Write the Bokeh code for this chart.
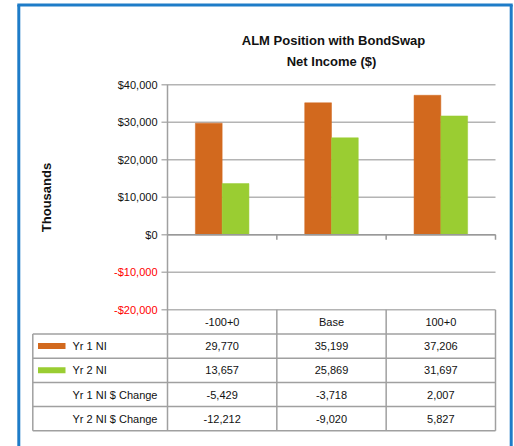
import numpy as np
from bokeh.plotting import figure
from bokeh.models import Range1d
from bokeh.core.properties import value
from bokeh.embed import file_html
from bokeh.resources import INLINE

# ---------------- data ----------------
categories = ["-100+0", "Base", "100+0"]
yr1_ni = [29770, 35199, 37206]
yr2_ni = [13657, 25869, 31697]
yr1_change = [-5429, -3718, 2007]
yr2_change = [-12212, -9020, 5827]
row_labels = ["Yr 1 NI", "Yr 2 NI", "Yr 1 NI $ Change", "Yr 2 NI $ Change"]
y_ticks = [40000, 30000, 20000, 10000, 0, -10000, -20000]
title_lines = ["ALM Position with BondSwap", "Net Income ($)"]
y_label = "Thousands"

# ---------------- styles ----------------
ORANGE = "#D2691E"
GREEN = "#9ACD32"
BLUE = "#1E7CC8"
GRID = "#b4b4b4"
TLINE = "#a0a0a0"
TXT = "#111111"
FONT = value("Liberation Sans")

# ---------------- layout (picture pixels) ----------------
W, H, M = 514, 446, 0
PX_L, PX_R = 167.0, 495.0          # plot area left/right
PY_TOP, PY_BOT = 84.3, 309.3       # pixel of y max / y min
Y_MAX, Y_MIN = max(y_ticks), min(y_ticks)
ncat = len(categories)
cat_w = (PX_R - PX_L) / ncat
ppv = (PY_BOT - PY_TOP) / (Y_MAX - Y_MIN)

def vpx(v):
    return PY_TOP + (Y_MAX - v) * ppv

x_range = Range1d((M - PX_L) / cat_w, (M + W - PX_L) / cat_w)
y_range = Range1d(Y_MIN - (M + H - PY_BOT) / ppv, Y_MAX + (PY_TOP - M) / ppv)

p = figure(width=W, height=H, x_range=x_range, y_range=y_range,
           output_backend="svg", toolbar_location=None,
           x_axis_location=None, y_axis_location=None,
           min_border=0, outline_line_color=None,
           background_fill_color="white", border_fill_color="white")
p.grid.visible = False
p.extra_x_ranges = {"px": Range1d(M, M + W)}
p.extra_y_ranges = {"px": Range1d(M + H, M)}

# ---------------- frame border ----------------
BL, BR, BT = 18.3, 510.7, 4.5
p.segment(x0=[BL, BR, BL - 1.5], y0=[BT, BT, BT], x1=[BL, BR, BR + 1.5], y1=[M + H, M + H, BT],
          x_range_name="px", y_range_name="px", line_color=BLUE, line_width=3)

# ---------------- gridlines + tick marks ----------------
nt = len(y_ticks)
p.segment(x0=[PX_L - 6] * nt, x1=[PX_R] * nt, y0=y_ticks, y1=y_ticks,
          x_range_name="px", line_color=GRID, line_width=1.5)

# ---------------- bars ----------------
idx = np.arange(ncat) + 0.5
bw = 0.245
p.vbar(x=idx - bw / 2, top=yr1_ni, bottom=0, width=bw,
       fill_color=ORANGE, line_color=ORANGE, line_width=0.5)
p.vbar(x=idx + bw / 2, top=yr2_ni, bottom=0, width=bw,
       fill_color=GREEN, line_color=GREEN, line_width=0.5)

# zero line
p.segment(x0=[PX_L], x1=[PX_R], y0=[0], y1=[0], x_range_name="px",
          line_color="#999999", line_width=1.5)
# category tick marks below zero line
bounds = np.arange(1, ncat + 1)
zp = vpx(0)
p.segment(x0=bounds, x1=bounds, y0=[zp] * ncat, y1=[zp + 5] * ncat,
          y_range_name="px", line_color="#999999", line_width=1.5)

# y axis line (continues into table)
nrows = len(row_labels) + 1
ROW_H = 24.2
T_TOP = PY_BOT
T_BOT = T_TOP + nrows * ROW_H
T_LEFT = 32.3
p.segment(x0=[PX_L], x1=[PX_L], y0=[PY_TOP], y1=[T_BOT],
          x_range_name="px", y_range_name="px", line_color=TLINE, line_width=1.5)

# ---------------- tick labels ----------------
tick_text = [("-$" if v < 0 else "$") + f"{abs(v):,}" for v in y_ticks]
tick_col = ["#ff0000" if v < 0 else "#111111" for v in y_ticks]
p.text(x=[PX_L - 10] * nt, y=y_ticks, text=tick_text, x_range_name="px",
       text_align="right", text_baseline="middle", text_font=FONT,
       text_font_size="11px", text_color=tick_col)

# ---------------- titles ----------------
p.text(x=[333, 331], y=[39.5, 61], text=title_lines, x_range_name="px", y_range_name="px",
       text_align="center", text_baseline="middle", text_font=FONT,
       text_font_size="13px", text_font_style="bold", text_color="#111111")
p.text(x=[45.5], y=[197], text=[y_label], angle=np.pi / 2,
       x_range_name="px", y_range_name="px",
       text_align="center", text_baseline="middle", text_font=FONT,
       text_font_size="13px", text_font_style="bold", text_color="#111111")

# ---------------- table ----------------
row_y = [T_TOP + ROW_H * (k + 1) for k in range(nrows)]
p.segment(x0=[T_LEFT] * nrows, x1=[PX_R] * nrows, y0=row_y, y1=row_y,
          x_range_name="px", y_range_name="px", line_color=TLINE, line_width=1.5)
p.segment(x0=[T_LEFT], x1=[T_LEFT], y0=[row_y[0]], y1=[T_BOT],
          x_range_name="px", y_range_name="px", line_color=TLINE, line_width=1.5)
p.segment(x0=bounds, x1=bounds, y0=[T_TOP] * ncat, y1=[T_BOT] * ncat,
          y_range_name="px", line_color=TLINE, line_width=1.5)

hdr_y = T_TOP + ROW_H / 2
p.text(x=idx, y=[hdr_y] * ncat, text=categories, y_range_name="px",
       text_align="center", text_baseline="middle", text_font=FONT,
       text_font_size="11px", text_color=TXT)

table_rows = [yr1_ni, yr2_ni, yr1_change, yr2_change]
for k, (lab, vals) in enumerate(zip(row_labels, table_rows)):
    cy = T_TOP + ROW_H * (k + 1.5)
    p.text(x=idx, y=[cy] * ncat, text=[f"{v:,}" for v in vals], y_range_name="px",
           text_align="center", text_baseline="middle", text_font=FONT,
           text_font_size="11px", text_color=TXT)
    p.text(x=[72], y=[cy], text=[lab], x_range_name="px", y_range_name="px",
           text_align="left", text_baseline="middle", text_font=FONT,
           text_font_size="11px", text_color=TXT)

sw_y = [T_TOP + ROW_H * 1.5, T_TOP + ROW_H * 2.5]
p.quad(left=[37.5, 37.5], right=[65, 65], top=[y - 3 for y in sw_y], bottom=[y + 3 for y in sw_y],
       x_range_name="px", y_range_name="px", fill_color=[ORANGE, GREEN], line_color=None)

open("out.html", "w").write(file_html(p, INLINE))
